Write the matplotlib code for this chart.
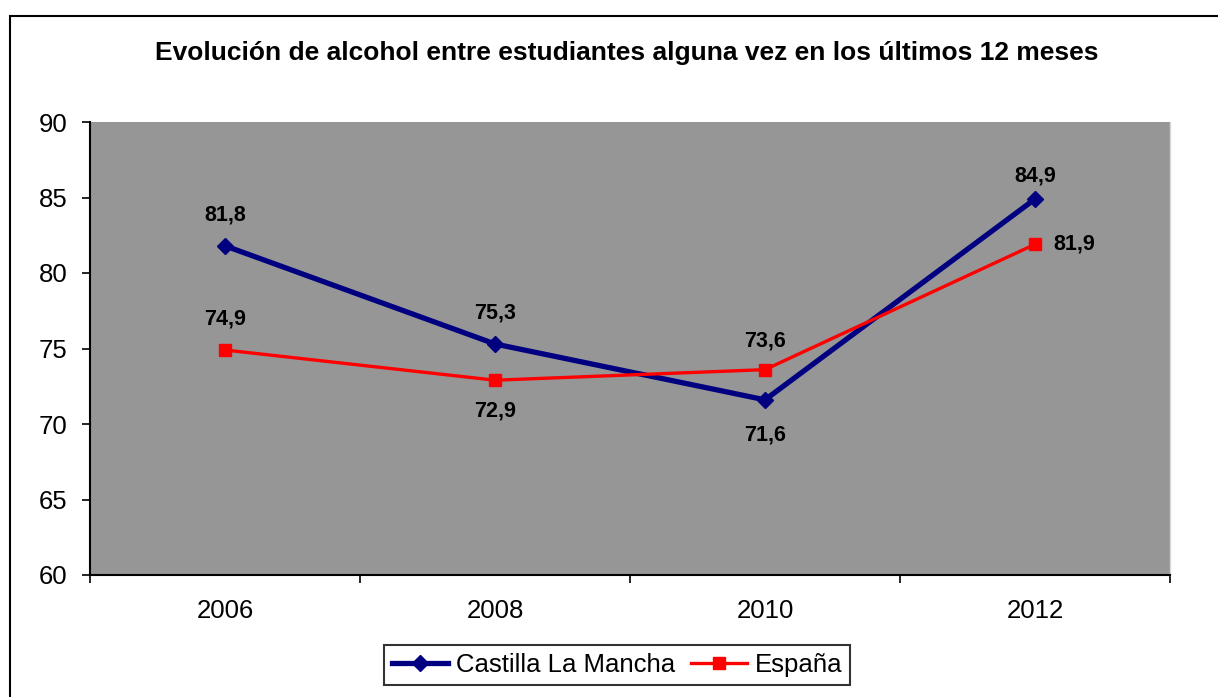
import matplotlib
matplotlib.use("Agg")
import matplotlib.pyplot as plt
from matplotlib.patches import Rectangle
from matplotlib.lines import Line2D

plt.rcParams['font.family'] = ['Liberation Sans', 'DejaVu Sans']

title = "Evolución de alcohol entre estudiantes alguna vez en los últimos 12 meses"
years = ["2006", "2008", "2010", "2012"]
clm = [81.8, 75.3, 71.6, 84.9]
espana = [74.9, 72.9, 73.6, 81.9]
series_names = ["Castilla La Mancha", "España"]
yticks = [60, 65, 70, 75, 80, 85, 90]

fig = plt.figure(figsize=(12.18, 6.97), dpi=100)
W, H = 1218, 697

# outer frame
fig.patches.append(Rectangle((10 / W, -0.05), 1.2, 1 - 16 / H + 0.05,
                             transform=fig.transFigure, fill=False,
                             edgecolor='black', linewidth=1.5, zorder=0))

ax = fig.add_axes([90 / W, (H - 575) / H, (1170 - 90) / W, (575 - 122) / H])
ax.set_facecolor('#969696')

x = list(range(len(years)))
ax.plot(x, clm, color='#000080', linewidth=3.8, marker='D', markersize=8,
        label=series_names[0], zorder=3, solid_joinstyle='miter')
ax.plot(x, espana, color='#FF0000', linewidth=2.4, marker='s', markersize=8,
        label=series_names[1], zorder=3)

def fmt(v):
    return f"{v:.1f}".replace('.', ',')

# data labels: (dx px, dy px)
clm_off = [(0, 31), (0, 31), (0, -35), (0, 23)]
esp_off = [(0, 31), (0, -31), (0, 29), (18, 0)]
for i, v in enumerate(clm):
    dx, dy = clm_off[i]
    ax.annotate(fmt(v), (x[i], v), xytext=(dx * 0.72, dy * 0.72),
                textcoords='offset points', ha='center',
                va='center', fontsize=15.5, fontweight='bold', color='black')
for i, v in enumerate(espana):
    dx, dy = esp_off[i]
    ax.annotate(fmt(v), (x[i], v), xytext=(dx * 0.72, dy * 0.72),
                textcoords='offset points', ha='left' if dx else 'center',
                va='center', fontsize=15.5, fontweight='bold', color='black')

ax.set_xlim(-0.5, len(years) - 0.5)
ax.set_ylim(60, 90)
ax.set_yticks(yticks)
ax.set_yticklabels([str(t) for t in yticks])

ax.set_xticks([i - 0.5 for i in range(len(years) + 1)])
ax.set_xticklabels([])
ax.set_xticks(x, minor=True)
ax.set_xticklabels(years, minor=True)
ax.tick_params(axis='x', which='major', direction='out', length=6, width=1.2, color='black')
ax.tick_params(axis='x', which='minor', length=0, pad=17, labelsize=18.5)
ax.tick_params(axis='y', direction='out', length=6, width=1.2, pad=10, labelsize=18.5)

ax.spines['top'].set_visible(False)
ax.spines['right'].set_color('#d8d8d8')
ax.spines['right'].set_linewidth(1)
ax.spines['left'].set_linewidth(1.5)
ax.spines['bottom'].set_linewidth(1.5)

fig.text(627 / W, 1 - 53 / H, title, ha='center', va='center',
         fontsize=19, fontweight='bold')

handles = [Line2D([], [], color='#000080', linewidth=3.8, marker='D', markersize=8),
           Line2D([], [], color='#FF0000', linewidth=2.4, marker='s', markersize=8)]
leg = fig.legend(handles, series_names, loc='center', bbox_to_anchor=(617 / W, 1 - 665 / H),
                 ncol=2, fontsize=18.5, frameon=True, fancybox=False,
                 edgecolor='black', handlelength=2.2, columnspacing=0.6,
                 handletextpad=0.3, borderpad=0.3, borderaxespad=0)
leg.get_frame().set_linewidth(1.5)

fig.savefig("out.png", dpi=100)
